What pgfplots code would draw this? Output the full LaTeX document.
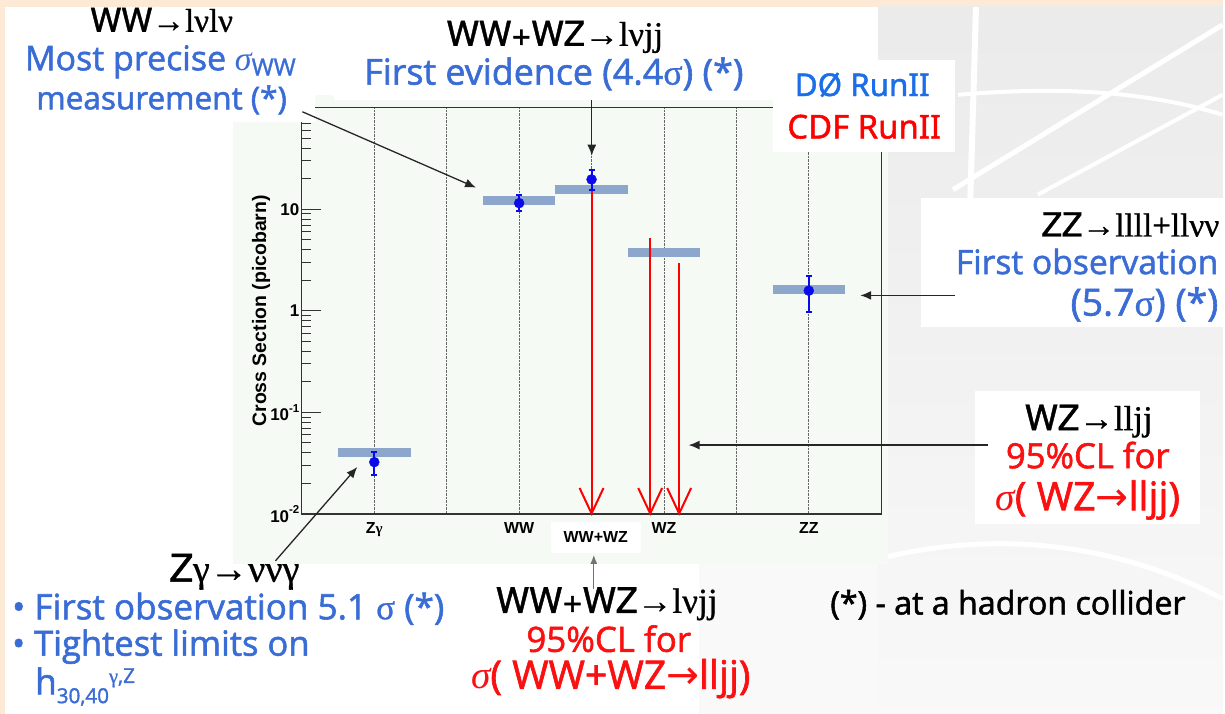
\documentclass[border=0pt]{standalone}
\usepackage{pgfplots}
\pgfplotsset{compat=1.18}
\usepackage{fontspec}
\usetikzlibrary{arrows.meta}
\setmainfont{Open Sans}
\newfontfamily\comic{Open Sans}[FakeBold=1.6]
\newfontfamily\heros{TeX Gyre Heros}[FakeBold=1.2]
\newfontfamily\tms{Liberation Serif}[FakeBold=0.8]
\newfontfamily\tmsi{Liberation Serif}
\newfontfamily\arial{Liberation Sans}
\newfontfamily\noto{Noto Sans}[FakeBold=1.4]
\newfontfamily\dv{DejaVu Sans}
\definecolor{peach}{RGB}{252,233,214}
\definecolor{tint}{RGB}{245,250,245}
\definecolor{cblue}{RGB}{58,108,214}
\definecolor{dblue}{RGB}{28,110,232}
\definecolor{cred}{RGB}{250,16,16}
\definecolor{bandc}{RGB}{140,166,204}
\definecolor{pblue}{RGB}{10,10,235}
\newcommand{\fitw}[2]{\resizebox{#1pt}{!}{#2}}
\newcommand{\nf}{\fontsize{24}{28}\selectfont}
\newcommand{\tl}{\arial\bfseries\fontsize{17}{17}\selectfont}
\newcommand{\xl}{\arial\bfseries\fontsize{16}{16}\selectfont}
\newcommand{\sups}[1]{\raisebox{0.5em}{\fontsize{11.5}{11.5}\selectfont #1}}
\begin{document}
\begin{tikzpicture}[x=1pt,y=1pt]
\begin{scope}[shift={(0,715)}, yscale=-1]
  \fill[peach] (0,0) rectangle (1225,715);
  \fill[white] (5,7) rectangle (1225,715);
  \shade[top color=gray!16, bottom color=gray!5] (880,7) rectangle (1225,715);
  \fill[gray!5] (700,565) rectangle (880,715);
  \draw[white, line width=6pt] (978,7) -- (972,210);
  \draw[white, line width=5pt] (955,190) -- (1225,25);
  \draw[white, line width=4pt] (1040,195) -- (1225,95);
  \draw[white, line width=4pt] (960,95) .. controls (1080,85) and (1160,95) .. (1225,115);
  \draw[white, line width=5pt] (880,560) .. controls (1000,530) and (1120,545) .. (1225,600);
  \fill[tint] (233,95) rectangle (890,565);
\end{scope}

\begin{axis}[
  at={(302.5pt,200pt)}, anchor=south west, scale only axis,
  width=580.5pt, height=407pt,
  xmin=0, xmax=8, ymode=log, ymin=0.01, ymax=100,
  axis line style={black!80, line width=1.1pt},
  xtick={1,2,3,4,5,6,7},
  xticklabels={{Z{\tmsi\fontsize{15}{15}\selectfont γ}},{},WW,{},WZ,{},ZZ},
  xticklabel style={font=\xl, yshift=-5pt},
  xmajorgrids,
  major grid style={densely dotted, black!60, line width=0.6pt},
  ytick={0.01,0.1,1,10,100},
  yticklabels={{10\sups{-2}},{10\sups{-1}},1,10,{}},
  yticklabel style={font=\tl, xshift=1pt},
  minor ytick={0.02,0.03,0.04,0.05,0.06,0.07,0.08,0.09,0.2,0.3,0.4,0.5,0.6,0.7,0.8,0.9,2,3,4,5,6,7,8,9,20,30,40,50,60,70,80,90},
  ytick pos=left,
  tick align=inside,
  major tick length=19pt, minor tick length=9pt,
  tick style={black!80, line width=1pt},
  xtick style={draw=none},
  ylabel={Cross Section (picobarn)},
  every axis y label/.style={at={(axis description cs:-0.0706,0.5)}, rotate=90, anchor=center, font=\arial\bfseries\fontsize{19.5}{19.5}\selectfont},
  clip=false,
]
% theory bands
\addplot[bandc, line width=9pt] coordinates {(0.5,0.040) (1.5,0.040)};
\addplot[bandc, line width=9pt] coordinates {(2.5,12.2) (3.5,12.2)};
\addplot[bandc, line width=9pt] coordinates {(3.5,15.7) (4.5,15.7)};
\addplot[bandc, line width=9pt] coordinates {(4.5,3.72) (5.5,3.72)};
\addplot[bandc, line width=9pt] coordinates {(6.5,1.61) (7.5,1.61)};
% 95% CL upper limits (red arrows)
\addplot[red, line width=2pt] coordinates {(4,19.7) (4,0.01)};
\addplot[red, line width=2pt, line join=miter] coordinates {(3.835,0.018) (4,0.0101) (4.165,0.018)};
\addplot[red, line width=2pt] coordinates {(4.81,5.2) (4.81,0.01)};
\addplot[red, line width=2pt, line join=miter] coordinates {(4.645,0.018) (4.81,0.0101) (4.975,0.018)};
\addplot[red, line width=2pt] coordinates {(5.21,2.96) (5.21,0.01)};
\addplot[red, line width=2pt, line join=miter] coordinates {(5.045,0.018) (5.21,0.0101) (5.375,0.018)};
% measured error bars
\addplot[pblue, line width=2pt, {Bar[width=6pt]}-{Bar[width=6pt]}] coordinates {(1,0.0236) (1,0.042)};
\addplot[pblue, line width=2pt, {Bar[width=6pt]}-{Bar[width=6pt]}] coordinates {(3,9.35) (3,14.0)};
\addplot[pblue, line width=2pt, {Bar[width=6pt]}-{Bar[width=6pt]}] coordinates {(4,15.0) (4,25.2)};
\addplot[pblue, line width=2pt, {Bar[width=6pt]}-{Bar[width=6pt]}] coordinates {(7,0.95) (7,2.25)};
% measured points
\addplot[only marks, mark=*, mark size=5pt, pblue] coordinates {(1,0.0324) (3,11.5) (4,19.7) (7,1.58)};
\end{axis}

\begin{scope}[shift={(0,715)}, yscale=-1, tx/.style={inner sep=0pt, anchor=center}]
  % white label boxes
  \fill[white] (5,7) rectangle (316,122);
  \fill[white] (335,7) rectangle (775,100);
  \fill[white] (775,60) rectangle (957,152);
  \fill[white] (923,198) rectangle (1225,328);
  \fill[white] (977,392) rectangle (1202,525);
  \fill[white] (552,523) rectangle (642,554);
  \node[tx] at (597,538) {\xl WW+WZ};

  % top-left
  \node[tx] at (162,20) {\fitw{143}{\nf\heros WW\tms →lνlν}};
  \node[tx, text=cblue] at (161,62) {\fitw{272}{\nf\comic Most precise {\tmsi\itshape σ}\textsubscript{WW}}};
  \node[tx, text=cblue] at (162,100) {\fitw{251}{\nf\comic measurement (*)}};
  % top-centre
  \node[tx] at (556,37) {\fitw{217}{\nf\heros WW+WZ\tms →lνjj}};
  \node[tx, text=cblue] at (555,74) {\fitw{380}{\nf\comic First evidence (4.4{\tms σ}) (*)}};
  % experiments
  \node[tx, text=dblue] at (864,85) {\fitw{135}{\nf\noto DØ RunII}};
  \node[tx, text=red] at (866,127) {\fitw{154}{\nf\noto CDF RunII}};
  % ZZ
  \node[tx, anchor=east] at (1222,225) {\fitw{178}{\nf\heros ZZ\tms →llll+llνν}};
  \node[tx, anchor=east, text=cblue] at (1221,262) {\fitw{263}{\nf\comic First observation}};
  \node[tx, anchor=east, text=cblue] at (1221,305) {\fitw{148}{\nf\comic (5.7{\tms σ}) (*)}};
  % WZ
  \node[tx] at (1091,422) {\fitw{128}{\nf\heros WZ\tms →lljj}};
  \node[tx, text=cred] at (1090,456) {\fitw{164}{\nf\comic 95\%CL for}};
  \node[tx, text=cred] at (1090,501) {\fitw{185}{\nf\comic{\tmsi\itshape σ}( WZ{\dv →}lljj)}};
  % Z gamma
  \node[tx] at (235,573) {\fitw{130}{\nf\heros Z\tms γ→ννγ}};
  \node[tx, anchor=west, text=cblue] at (12,610) {\fitw{433}{\nf\comic • First observation 5.1 {\tms σ} (*)}};
  \node[tx, anchor=west, text=cblue] at (12,648) {\fitw{298}{\nf\comic • Tightest limits on}};
  \node[tx, anchor=west, text=cblue] at (35,688) {\fitw{100}{\nf\comic h\raisebox{-0.25em}{\fontsize{14}{14}\selectfont 30,40}\raisebox{0.32em}{\fontsize{14}{14}\selectfont{\tms γ},Z}}};
  % bottom centre
  \node[tx] at (608,605) {\fitw{222}{\nf\heros WW+WZ\tms →lνjj}};
  \node[tx, text=cred] at (610,640) {\fitw{165}{\nf\comic 95\%CL for}};
  \node[tx, text=cred] at (612,680) {\fitw{280}{\nf\comic{\tmsi\itshape σ}( WW+WZ{\dv →}lljj)}};
  % footnote
  \node[tx] at (1010,606) {\fitw{356}{\nf\comic (*) - at a hadron collider}};

  % annotation arrows
  \draw[black!85, line width=1.3pt, -{Latex[length=11pt,width=9pt]}] (303,112) -- (477,188);
  \draw[black!85, line width=1.3pt, -{Latex[length=11pt,width=9pt]}] (593,100) -- (593,156);
  \draw[black!85, line width=1.3pt, -{Latex[length=11pt,width=9pt]}] (957,296) -- (862,296);
  \draw[black!85, line width=1.3pt, -{Latex[length=11pt,width=9pt]}] (990,446) -- (690,446);
  \draw[black!85, line width=1.3pt, -{Latex[length=11pt,width=9pt]}] (276,562) -- (358,468);
  \draw[black!55, line width=1.2pt, -{Latex[length=9pt,width=7pt]}] (595,590) -- (595,556);
\end{scope}
\end{tikzpicture}
\end{document}
